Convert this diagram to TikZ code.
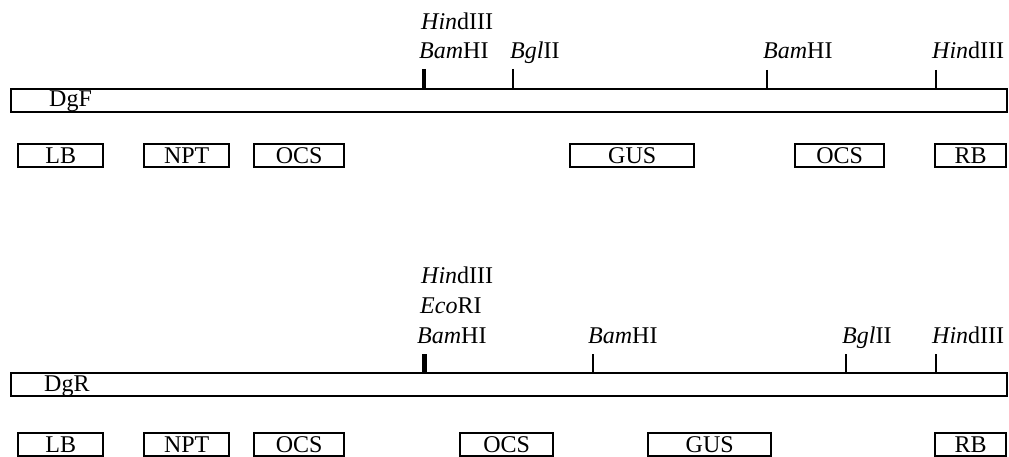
\documentclass[tikz,border=0pt]{standalone}
\usepackage{fontspec}
\setmainfont{Liberation Serif}
\newcommand{\fs}{\fontsize{24}{28}\selectfont}
\begin{document}
\begin{tikzpicture}[x=1pt,y=-1pt,
  barbox/.style={draw, line width=2.4pt, inner sep=0pt, minimum width=996pt, minimum height=23pt, anchor=north west},
  gene/.style={draw, line width=2.4pt, inner sep=0pt, minimum height=23pt, text height=16pt, text depth=0pt, anchor=north west, font=\fs},
  site/.style={anchor=base west, inner sep=0pt, font=\fs},
  barlabel/.style={anchor=base west, inner sep=0pt, font=\fs},
  tickline/.style={line width=2pt},
  thicktick/.style={line width=4pt}]
\useasboundingbox (0,0) rectangle (1009,457);

% ---------- DgF ----------
\node[barbox] (barF) at (10,88) {};
\node[barlabel] (lblF) at (49,107) {DgF};

\coordinate (f1) at (424,69);
\coordinate (f2) at (513,69);
\coordinate (f3) at (767,70);
\coordinate (f4) at (936,70);
\draw[thicktick] (f1) -- (f1 |- barF.north);
\draw[tickline] (f2) -- (f2 |- barF.north);
\draw[tickline] (f3) -- (f3 |- barF.north);
\draw[tickline] (f4) -- (f4 |- barF.north);

\node[site] (sF1a) at (421,30) {\textit{Hin}dIII};
\node[site] (sF1b) at (419,59) {\textit{Bam}HI};
\node[site] (sF2) at (510,59) {\textit{Bgl}II};
\node[site] (sF3) at (763,59) {\textit{Bam}HI};
\node[site] (sF4) at (932,59) {\textit{Hin}dIII};

\node[gene, minimum width=85pt] (gF1) at (17,143) {LB};
\node[gene, minimum width=85pt] (gF2) at (143,143) {NPT};
\node[gene, minimum width=90pt] (gF3) at (253,143) {OCS};
\node[gene, minimum width=124pt] (gF4) at (569,143) {GUS};
\node[gene, minimum width=89pt] (gF5) at (794,143) {OCS};
\node[gene, minimum width=71pt] (gF6) at (934,143) {RB};

% ---------- DgR ----------
\node[barbox] (barR) at (10,372) {};
\node[barlabel] (lblR) at (44,391) {DgR};

\coordinate (r1) at (424,354);
\coordinate (r2) at (593,354);
\coordinate (r3) at (846,354);
\coordinate (r4) at (936,354);
\draw[line width=5pt] (r1) -- (r1 |- barR.north);
\draw[tickline] (r2) -- (r2 |- barR.north);
\draw[tickline] (r3) -- (r3 |- barR.north);
\draw[tickline] (r4) -- (r4 |- barR.north);

\node[site] (sR1a) at (421,283) {\textit{Hin}dIII};
\node[site] (sR1b) at (420,313) {\textit{Eco}RI};
\node[site] (sR1c) at (417,343) {\textit{Bam}HI};
\node[site] (sR2) at (588,343) {\textit{Bam}HI};
\node[site] (sR3) at (842,343) {\textit{Bgl}II};
\node[site] (sR4) at (932,343) {\textit{Hin}dIII};

\node[gene, minimum width=85pt] (gR1) at (17,432) {LB};
\node[gene, minimum width=85pt] (gR2) at (143,432) {NPT};
\node[gene, minimum width=90pt] (gR3) at (253,432) {OCS};
\node[gene, minimum width=93pt] (gR4) at (459,432) {OCS};
\node[gene, minimum width=123pt] (gR5) at (647,432) {GUS};
\node[gene, minimum width=71pt] (gR6) at (934,432) {RB};
\end{tikzpicture}
\end{document}
